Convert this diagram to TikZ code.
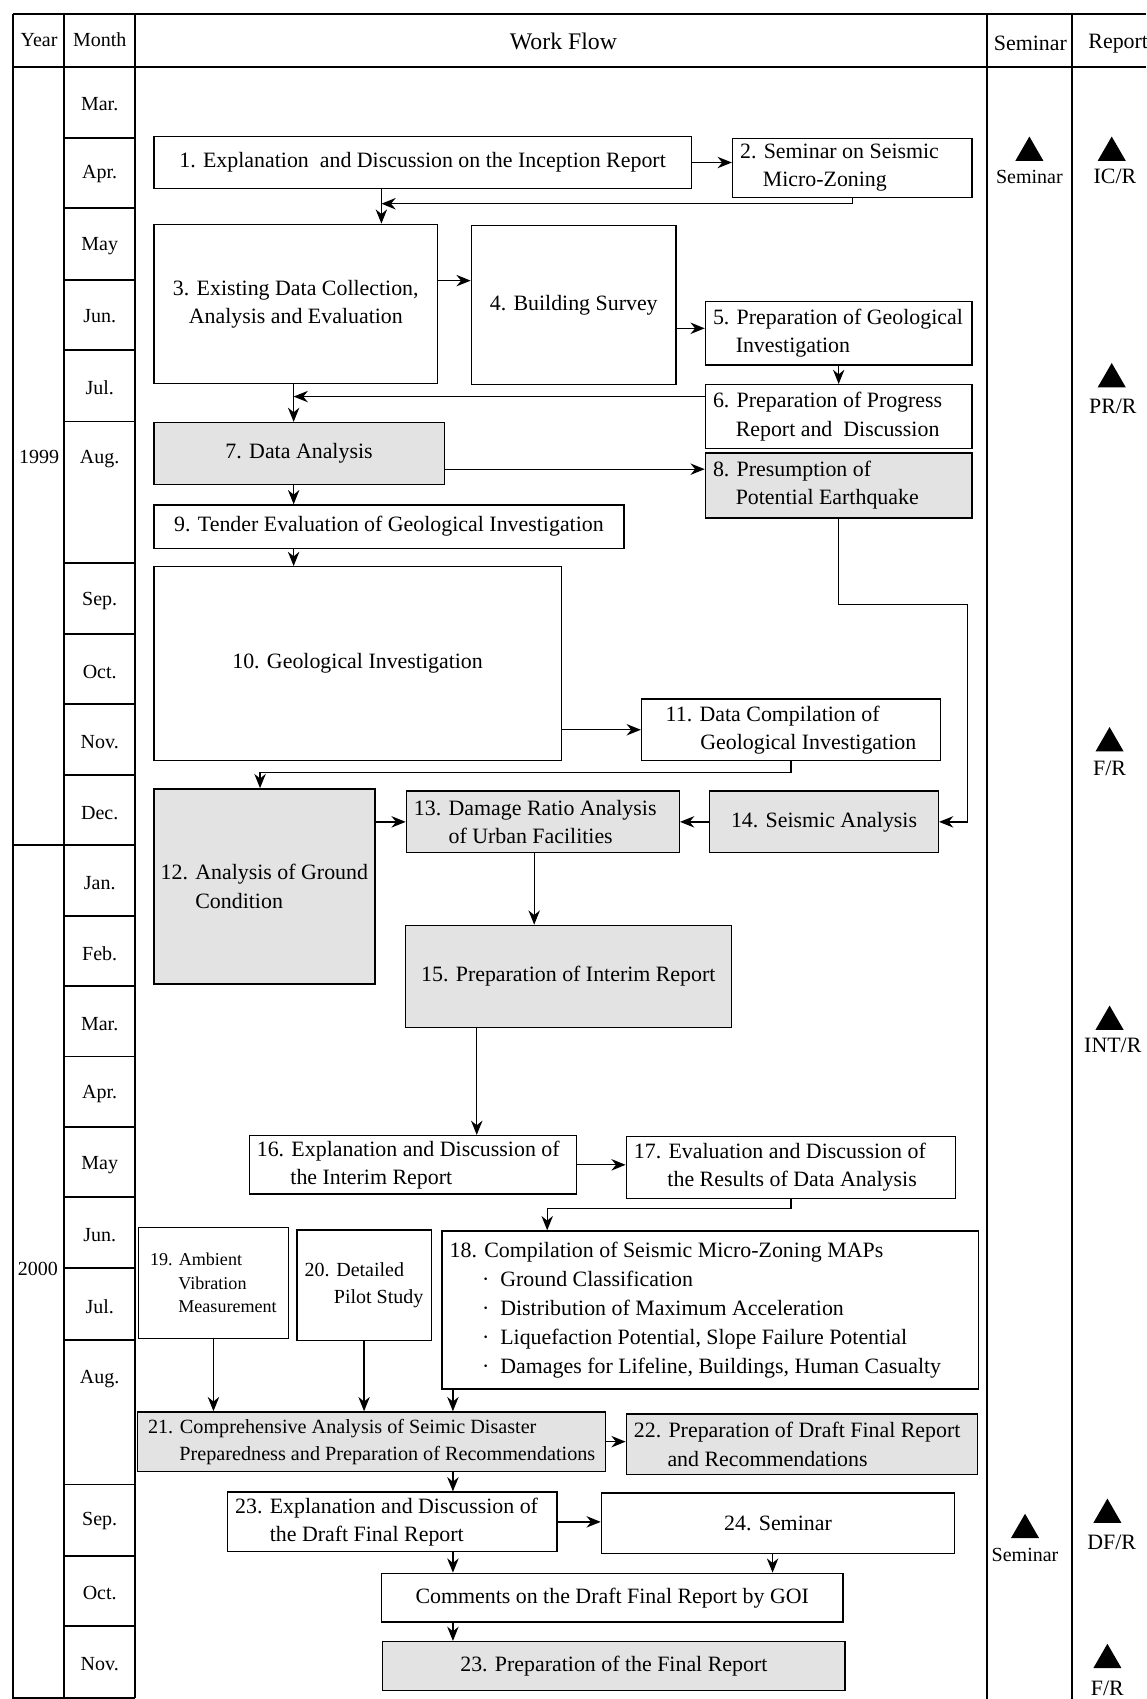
\documentclass[tikz,border=0pt]{standalone}
\usepackage{fontspec}
\setmainfont{Liberation Serif}
\usetikzlibrary{arrows.meta,shapes.geometric}

\begin{document}
\begin{tikzpicture}[x=0.02cm,y=-0.02cm,
	box/.style={draw,line width=.7pt,align=left,inner sep=0pt,font=\fontsize{11.5}{14.8}\selectfont},
	lbox/.style={box,align=flush left,inner xsep=0.14cm},
	shade/.style={box,fill=gray!22},
	lshade/.style={lbox,fill=gray!22},
	lab/.style={inner sep=0pt,font=\fontsize{10.5}{12}\selectfont},
	rep/.style={inner sep=0pt,font=\fontsize{11.5}{13}\selectfont},
	tri/.style={regular polygon,regular polygon sides=3,fill=black,inner sep=0pt,minimum size=0.6cm},
	arr/.style={line width=.7pt,-{Stealth[length=7.5pt,width=6pt]}},
	grid/.style={line width=1pt}]
	\useasboundingbox (0,0) rectangle (1058,1568);

	\draw[grid] (12,13)--(1058,13);
	\draw[grid] (12,62)--(1058,62);
	\draw[grid] (12,13)--(12,1567)--(125,1567);
	\draw[grid] (59,13)--(59,1567);
	\draw[grid] (125,13)--(125,1567);
	\draw[grid] (911,13)--(911,1568);
	\draw[grid] (989,13)--(989,1568);
	\draw[grid] (12,780)--(59,780);
	\draw[grid] (59,127)--(125,127) (59,192)--(125,192) (59,258)--(125,258) (59,323)--(125,323)
		(59,389)--(125,389) (59,520)--(125,520) (59,585)--(125,585) (59,650)--(125,650)
		(59,715)--(125,715) (59,780)--(125,780) (59,845)--(125,845) (59,910)--(125,910)
		(59,975)--(125,975) (59,1040)--(125,1040) (59,1105)--(125,1105) (59,1170)--(125,1170)
		(59,1237)--(125,1237) (59,1370)--(125,1370) (59,1436)--(125,1436) (59,1501)--(125,1501);

	\node[lab] (hyear) at (36,37) {Year};
	\node[lab] (hmonth) at (92,37) {Month};
	\node[inner sep=0pt,font=\fontsize{12.5}{14}\selectfont] (hflow) at (520,38) {Work Flow};
	\node[rep] (hsem) at (951,40) {Seminar};
	\node[rep] (hrep) at (1032,40) {Report};

	\node[lab] (y1999) at (36,422) {1999};
	\node[lab] (y2000) at (35,1171) {2000};

	\node[lab] (mMar) at (92,96) {Mar.};
	\node[lab] (mApr) at (92,161) {Apr.};
	\node[lab] (mMay) at (92,227) {May};
	\node[lab] (mJun) at (92,292) {Jun.};
	\node[lab] (mJul) at (92,358) {Jul.};
	\node[lab] (mAug) at (92,424) {Aug.};
	\node[lab] (mSep) at (92,555) {Sep.};
	\node[lab] (mOct) at (92,620) {Oct.};
	\node[lab] (mNov) at (92,685) {Nov.};
	\node[lab] (mDec) at (92,750) {Dec.};
	\node[lab] (nJan) at (92,815) {Jan.};
	\node[lab] (nFeb) at (92,880) {Feb.};
	\node[lab] (nMar) at (92,945) {Mar.};
	\node[lab] (nApr) at (92,1010) {Apr.};
	\node[lab] (nMay) at (92,1075) {May};
	\node[lab] (nJun) at (92,1140) {Jun.};
	\node[lab] (nJul) at (92,1206) {Jul.};
	\node[lab] (nAug) at (92,1273) {Aug.};
	\node[lab] (nSep) at (92,1404) {Sep.};
	\node[lab] (nOct) at (92,1470) {Oct.};
	\node[lab] (nNov) at (92,1536) {Nov.};

	\node[tri] (tsem1) at (950,141) {};
	\node[lab] (lsem1) at (950,163) {Seminar};
	\node[tri] (tsem2) at (946,1412) {};
	\node[lab] (lsem2) at (946,1435) {Seminar};
	\node[tri] (tic) at (1026,141) {};
	\node[rep] (lic) at (1029,163) {IC/R};
	\node[tri] (tpr) at (1026,350) {};
	\node[rep] (lpr) at (1027,375) {PR/R};
	\node[tri] (tf1) at (1024,686) {};
	\node[rep] (lf1) at (1024,709) {F/R};
	\node[tri] (tint) at (1024,943) {};
	\node[rep] (lint) at (1027,965) {INT/R};
	\node[tri] (tdf) at (1022,1398) {};
	\node[rep] (ldf) at (1026,1423) {DF/R};
	\node[tri] (tf2) at (1022,1532) {};
	\node[rep] (lf2) at (1022,1558) {F/R};

	\node[box,minimum width=9.92cm,minimum height=0.96cm] (b1) at (390,150) {1. Explanation\ \ and Discussion on the Inception Report};
	\node[lbox,text width=4.14cm,minimum height=1.08cm] (b2) at (786.5,155) {\mbox{2. Seminar on Seismic}\\\mbox{\hspace*{0.42cm}Micro-Zoning}};
	\node[box,align=center,minimum width=5.24cm,minimum height=2.94cm] (b3) at (273,280.5) {3. Existing Data Collection,\\Analysis and Evaluation};
	\node[box,minimum width=3.78cm,minimum height=2.94cm] (b4) at (529.5,281.5) {4. Building Survey};
	\node[lbox,text width=4.64cm,minimum height=1.18cm] (b5) at (774,307.5) {\mbox{5. Preparation of Geological}\\\mbox{\hspace*{0.42cm}Investigation}};
	\node[lbox,text width=4.64cm,minimum height=1.18cm] (b6) at (774,384.5) {\mbox{6. Preparation of Progress}\\\mbox{\hspace*{0.42cm}Report and\ \ Discussion}};
	\node[shade,minimum width=5.36cm,minimum height=1.14cm] (b7) at (276,418.5) {7. Data Analysis};
	\node[lshade,text width=4.64cm,minimum height=1.2cm] (b8) at (774,448) {\mbox{8. Presumption of}\\\mbox{\hspace*{0.42cm}Potential Earthquake}};
	\node[box,minimum width=8.68cm,minimum height=0.8cm] (b9) at (359,486) {9. Tender Evaluation of Geological Investigation};
	\node[box,minimum width=7.52cm,minimum height=3.58cm] (b10) at (330,612.5) {10. Geological Investigation};
	\node[box,minimum width=5.52cm,minimum height=1.14cm] (b11) at (730,673.5) {11. Data Compilation of\\\hspace*{0.64cm}Geological Investigation};
	\node[shade,minimum width=4.08cm,minimum height=3.6cm] (b12) at (244,818) {12. Analysis of Ground\\\hspace*{0.64cm}Condition};
	\node[lshade,text width=4.76cm,minimum height=1.14cm] (b13) at (501,758.5) {\mbox{13. Damage Ratio Analysis}\\\mbox{\hspace*{0.64cm}of Urban Facilities}};
	\node[shade,minimum width=4.22cm,minimum height=1.14cm] (b14) at (760.5,758.5) {14. Seismic Analysis};
	\node[shade,minimum width=6.02cm,minimum height=1.88cm] (b15) at (524.5,901) {15. Preparation of Interim Report};
	\node[lbox,text width=5.76cm,minimum height=1.08cm] (b16) at (381,1075) {\mbox{16. Explanation and Discussion of}\\\mbox{\hspace*{0.62cm}the Interim Report}};
	\node[lbox,text width=5.8cm,minimum height=1.14cm] (b17) at (730,1077.5) {\mbox{17. Evaluation and Discussion of}\\\mbox{\hspace*{0.62cm}the Results of Data Analysis}};
	\node[lbox,font=\fontsize{11.5}{15.3}\selectfont,text width=9.62cm,minimum height=2.92cm] (b18) at (655.5,1209) {\mbox{18. Compilation of Seismic Micro-Zoning MAPs}\\
		\mbox{\hspace*{0.6cm}·\hspace{0.2cm}Ground Classification}\\
		\mbox{\hspace*{0.6cm}·\hspace{0.2cm}Distribution of Maximum Acceleration}\\
		\mbox{\hspace*{0.6cm}·\hspace{0.2cm}Liquefaction Potential, Slope Failure Potential}\\
		\mbox{\hspace*{0.6cm}·\hspace{0.2cm}Damages for Lifeline, Buildings, Human Casualty}};
	\node[box,font=\fontsize{9.5}{12.5}\selectfont,minimum width=2.76cm,minimum height=2.04cm] (b19) at (197,1184) {19. Ambient\\\hspace*{0.52cm}Vibration\\\hspace*{0.52cm}Measurement};
	\node[box,font=\fontsize{10.5}{14.2}\selectfont,minimum width=2.48cm,minimum height=2.04cm] (b20) at (336,1186) {20. Detailed\\\hspace*{0.54cm}Pilot Study};
	\node[shade,font=\fontsize{10.6}{14.2}\selectfont,minimum width=8.64cm,minimum height=1.1cm] (b21) at (343,1330.5) {21. Comprehensive Analysis of Seimic Disaster\\\hspace*{0.58cm}Preparedness and Preparation of Recommendations};
	\node[lshade,text width=6.2cm,minimum height=1.12cm] (b22) at (740,1333) {\mbox{22. Preparation of Draft Final Report}\\\mbox{\hspace*{0.62cm}and Recommendations}};
	\node[lbox,text width=5.8cm,minimum height=1.1cm] (b23) at (362,1404.5) {\mbox{23. Explanation and Discussion of}\\\mbox{\hspace*{0.64cm}the Draft Final Report}};
	\node[box,minimum width=6.52cm,minimum height=1.12cm] (b24) at (718,1406) {24. Seminar};
	\node[box,minimum width=8.52cm,minimum height=0.9cm] (bc) at (565,1474.5) {Comments on the Draft Final Report by GOI};
	\node[shade,minimum width=8.54cm,minimum height=0.9cm] (bf) at (566.5,1537.5) {23. Preparation of the Final Report};

	\coordinate (j1) at (352,188);
	\coordinate (j2) at (271,366);
	\coordinate (j3) at (530,433);
	\coordinate (j4) at (240,713);
	\coordinate (j5) at (893,558);
	\coordinate (j6) at (440,1000);
	\coordinate (j7) at (505,1115);
	\coordinate (j8) at (418,1400);
	\coordinate (j9) at (493,800);
	\coordinate (j10) at (420,259);
	\coordinate (j11) at (637,303);
	\coordinate (j12) at (713,1440);

	\draw[arr] (b1.east) -- (b1.east -| b2.west);
	\draw[arr] (b2.south) |- (j1);
	\draw[arr] (j1 |- b1.south) -- (j1 |- b3.north);
	\draw[arr] (b3.east |- j10) -- (b4.west |- j10);
	\draw[arr] (b4.east |- j11) -- (b5.west |- j11);
	\draw[arr] (b5.south) -- (b6.north);
	\draw[arr] (b6.west |- j2) -- (j2);
	\draw[arr] (j2 |- b3.south) -- (j2 |- b7.north);
	\draw[arr] (b7.east |- j3) -- (b8.west |- j3);
	\draw[arr] (j2 |- b7.south) -- (j2 |- b9.north);
	\draw[arr] (j2 |- b9.south) -- (j2 |- b10.north);
	\draw[arr] (b10.east |- b11.west) -- (b11.west);
	\draw[arr] (b11.south) |- (j4) -- (j4 |- b12.north);
	\draw[arr] (b8.south) |- (j5) |- (b14.east);
	\draw[arr] (b12.east |- b13.west) -- (b13.west);
	\draw[arr] (b14.west) -- (b13.east);
	\draw[arr] (j9 |- b13.south) -- (j9 |- b15.north);
	\draw[arr] (j6 |- b15.south) -- (j6 |- b16.north);
	\draw[arr] (b16.east) -- (b16.east -| b17.west);
	\draw[arr] (b17.south) |- (j7) -- (j7 |- b18.north);
	\draw[arr] (b19.south) -- (b19.south |- b21.north);
	\draw[arr] (b20.south) -- (b20.south |- b21.north);
	\draw[arr] (j8 |- b18.south) -- (j8 |- b21.north);
	\draw[arr] (b21.east) -- (b21.east -| b22.west);
	\draw[arr] (j8 |- b21.south) -- (j8 |- b23.north);
	\draw[arr] (b23.east) -- (b23.east -| b24.west);
	\draw[arr] (j8 |- b23.south) -- (j8 |- bc.north);
	\draw[arr] (j12 |- b24.south) -- (j12 |- bc.north);
	\draw[arr] (j8 |- bc.south) -- (j8 |- bf.north);
\end{tikzpicture}
\end{document}
